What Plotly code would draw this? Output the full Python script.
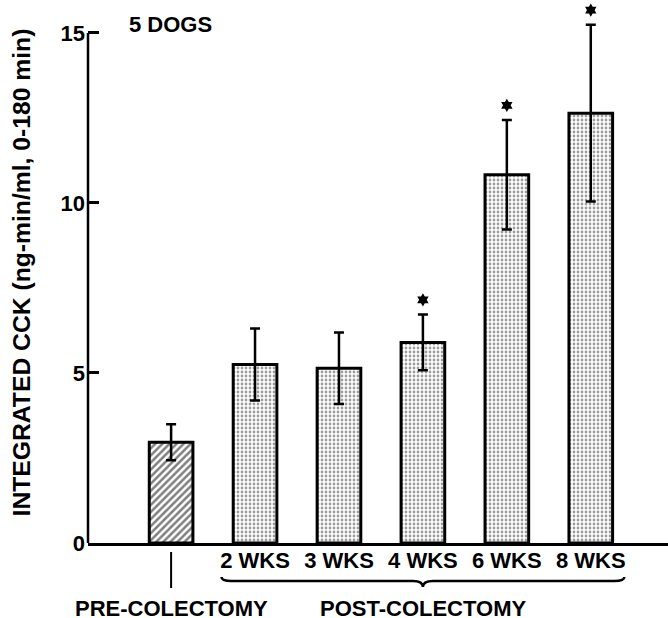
import plotly.graph_objects as go

# ---- data ----
categories = ["", "2 WKS", "3 WKS", "4 WKS", "6 WKS", "8 WKS"]
cck_mean = [2.96, 5.25, 5.14, 5.90, 10.83, 12.64]
cck_err = [0.53, 1.06, 1.05, 0.82, 1.61, 2.60]
significant = [False, False, False, True, True, True]
y_ticks = [0, 5, 10, 15]
group_labels = ["PRE-COLECTOMY", "POST-COLECTOMY"]

FONT = "Liberation Sans, Arial, Helvetica, sans-serif"
FS = 22
xpos = list(range(len(categories)))

fig = go.Figure()

# pre-colectomy bar (hatched)
fig.add_trace(go.Bar(
    x=xpos[:1], y=cck_mean[:1], width=0.52,
    marker=dict(color="white", line=dict(color="black", width=3),
                pattern=dict(shape="/", fgcolor="black", bgcolor="white",
                             size=5, solidity=0.5)),
    error_y=dict(type="data", array=cck_err[:1], color="black",
                 thickness=2.5, width=5),
    showlegend=False,
))
# post-colectomy bars (stippled)
fig.add_trace(go.Bar(
    x=xpos[1:], y=cck_mean[1:], width=0.52,
    marker=dict(color="white", line=dict(color="black", width=3),
                pattern=dict(shape=".", fgcolor="#3a3a3a", bgcolor="white",
                             size=4, solidity=0.38)),
    error_y=dict(type="data", array=cck_err[1:], color="black",
                 thickness=2.5, width=5),
    showlegend=False,
))

# significance markers
star_x = [x for x, s in zip(xpos, significant) if s]
star_y = [m + e + 0.43 for m, e, s in zip(cck_mean, cck_err, significant) if s]
fig.add_trace(go.Scatter(
    x=star_x, y=star_y, mode="markers",
    marker=dict(symbol="hexagram", size=10, color="black"),
    showlegend=False, hoverinfo="skip",
))

# y-axis line, ending at the top tick
fig.add_shape(type="line", xref="paper", yref="y",
              x0=0, x1=0, y0=y_ticks[0], y1=y_ticks[-1],
              line=dict(color="black", width=2.5))

# pre-colectomy tick line
fig.add_shape(type="line", xref="x", yref="paper",
              x0=xpos[0], x1=xpos[0], y0=-0.0166, y1=-0.0832,
              line=dict(color="black", width=2))

# brace under post-colectomy groups
x0 = xpos[1] - 0.4
x1 = xpos[-1] + 0.4
xc = (xpos[1] + xpos[-1]) / 2
ye, yl, yp = -0.0628, -0.0702, -0.0813
d = 0.12
path = (f"M {x0},{ye} Q {x0},{yl} {x0 + d},{yl} L {xc - d},{yl} "
        f"Q {xc},{yl} {xc},{yp} Q {xc},{yl} {xc + d},{yl} "
        f"L {x1 - d},{yl} Q {x1},{yl} {x1},{ye}")
fig.add_shape(type="path", xref="x", yref="paper", path=path,
              line=dict(color="black", width=2.5))

bold_font = dict(size=FS, color="black", family=FONT, weight="bold")
fig.add_annotation(x=xpos[0], y=-0.121, xref="x", yref="paper",
                   text=group_labels[0], showarrow=False, font=bold_font,
                   xanchor="center", yanchor="middle")
fig.add_annotation(x=xc, y=-0.121, xref="x", yref="paper",
                   text=group_labels[1], showarrow=False, font=bold_font,
                   xanchor="center", yanchor="middle")
fig.add_annotation(x=0.067, y=0.9575, xref="paper", yref="paper",
                   text="5 DOGS", showarrow=False, font=bold_font,
                   xanchor="left", yanchor="middle")

fig.update_layout(
    width=668, height=618,
    margin=dict(l=88, r=0, t=2, b=75),
    plot_bgcolor="white", paper_bgcolor="white",
    font=dict(family=FONT, size=FS, color="black", weight="bold"),
    xaxis=dict(range=[-0.99, 5.92], tickvals=xpos, ticktext=categories,
               showline=True, linecolor="black", linewidth=2.5,
               ticks="", showgrid=False, zeroline=False,
               ticklabelstandoff=-4,
               tickfont=bold_font),
    yaxis=dict(range=[0, 15.91], tickvals=y_ticks,
               showline=False,
               ticks="inside", ticklen=11, tickwidth=2.5, tickcolor="black",
               showgrid=False, zeroline=False,
               ticklabelstandoff=2, tickfont=bold_font,
               title=dict(text="INTEGRATED CCK (ng-min/ml, 0-180 min)",
                          font=dict(size=24.7, color="black", family=FONT,
                                    weight="bold"),
                          standoff=22)),
)

fig.write_html(
    "out.html",
    config={"displayModeBar": False},
    post_script="document.body.style.margin='0';document.body.style.overflow='hidden';",
)
